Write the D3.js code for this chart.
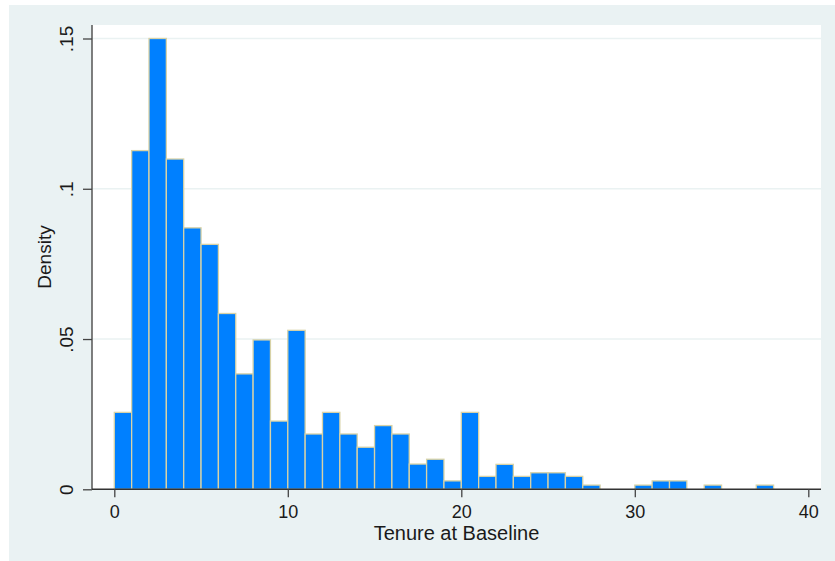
<!DOCTYPE html>
<html>
<head>
<meta charset="utf-8">
<script src="https://cdn.jsdelivr.net/npm/d3@7"></script>
<style>
  body { margin: 0; background: #fff; }
  svg text { font-family: Arial, "Liberation Sans", sans-serif; fill: #1a1a1a; }
</style>
</head>
<body>
<svg id="chart" width="835" height="561"></svg>
<script>
// histogram bins: start of each bin (width 1) and its density
const binStarts = d3.range(0, 38);
const densities = [
  0.0256, 0.1127, 0.1500, 0.1099, 0.0870, 0.0815, 0.0585, 0.0384, 0.0497, 0.0227,
  0.0529, 0.0184, 0.0256, 0.0184, 0.0140, 0.0212, 0.0184, 0.0084, 0.0100, 0.0028,
  0.0256, 0.0043, 0.0083, 0.0043, 0.0055, 0.0055, 0.0043, 0.0014, 0, 0,
  0.0014, 0.0028, 0.0028, 0, 0.0014, 0, 0, 0.0014
];
const binWidth = 1;
const xTicks = [0, 10, 20, 30, 40];
const yTicks = [0, 0.05, 0.1, 0.15];
const yTickLabels = ["0", ".05", ".1", ".15"];

const svg = d3.select('#chart');

// outer graph region
svg.append('rect')
  .attr('x', 9).attr('y', 5)
  .attr('width', 826).attr('height', 556)
  .attr('fill', '#eaf2f3');

const plot = { left: 92, right: 821, top: 25, bottom: 489.3 };

svg.append('rect')
  .attr('x', plot.left).attr('y', plot.top)
  .attr('width', plot.right - plot.left).attr('height', plot.bottom - plot.top)
  .attr('fill', '#ffffff');

const x = d3.scaleLinear().domain([0, 40]).range([114.3, 808.3]);
const y = d3.scaleLinear().domain([0, 0.15]).range([plot.bottom, 38.5]);

// gridlines
svg.append('g')
  .selectAll('line')
  .data(yTicks.filter(d => d > 0))
  .enter().append('line')
  .attr('x1', plot.left).attr('x2', plot.right)
  .attr('y1', d => y(d)).attr('y2', d => y(d))
  .attr('stroke', '#eaf2f2')
  .attr('stroke-width', 1.5);

// bars
svg.append('g')
  .selectAll('rect')
  .data(binStarts.map((s, i) => ({ start: s, density: densities[i] })).filter(d => d.density > 0))
  .enter().append('rect')
  .attr('x', d => x(d.start))
  .attr('y', d => y(d.density))
  .attr('width', d => x(d.start + binWidth) - x(d.start))
  .attr('height', d => y(0) - y(d.density))
  .attr('fill', '#0080ff')
  .attr('stroke', '#d8d2a6')
  .attr('stroke-width', 1.3);

// y axis
const yAxis = svg.append('g')
  .attr('transform', `translate(${plot.left},0)`)
  .call(d3.axisLeft(y).tickValues(yTicks).tickSize(9).tickFormat((d, i) => yTickLabels[i]));
yAxis.select('.domain').attr('d', `M0,${plot.top}V${plot.bottom}`)
  .attr('stroke', '#555').attr('stroke-width', 1.5);
yAxis.selectAll('.tick line').attr('stroke', '#444').attr('stroke-width', 1.3);
yAxis.selectAll('.tick text')
  .attr('transform', 'rotate(-90)')
  .attr('x', 0).attr('y', -19)
  .attr('dy', '0')
  .attr('text-anchor', 'middle')
  .style('font-size', '19px')
  .style('font-family', 'Arial, "Liberation Sans", sans-serif')
  .attr('fill', '#1a1a1a');

// x axis
const xAxis = svg.append('g')
  .attr('transform', `translate(0,${plot.bottom})`)
  .call(d3.axisBottom(x).tickValues(xTicks).tickSize(8).tickFormat(d3.format('d')));
xAxis.select('.domain').attr('d', `M${plot.left},0H${plot.right}`)
  .attr('stroke', '#333').attr('stroke-width', 1.5);
xAxis.selectAll('.tick line').attr('stroke', '#444').attr('stroke-width', 1.3);
xAxis.selectAll('.tick text')
  .attr('y', 29).attr('dy', '0')
  .style('font-size', '18px')
  .style('font-family', 'Arial, "Liberation Sans", sans-serif')
  .attr('fill', '#1a1a1a');

// axis titles
svg.append('text')
  .attr('x', (plot.left + plot.right) / 2)
  .attr('y', 540)
  .attr('text-anchor', 'middle')
  .style('font-size', '20px')
  .text('Tenure at Baseline');

svg.append('text')
  .attr('transform', `translate(51,257) rotate(-90)`)
  .attr('text-anchor', 'middle')
  .style('font-size', '19px')
  .text('Density');
</script>
</body>
</html>
